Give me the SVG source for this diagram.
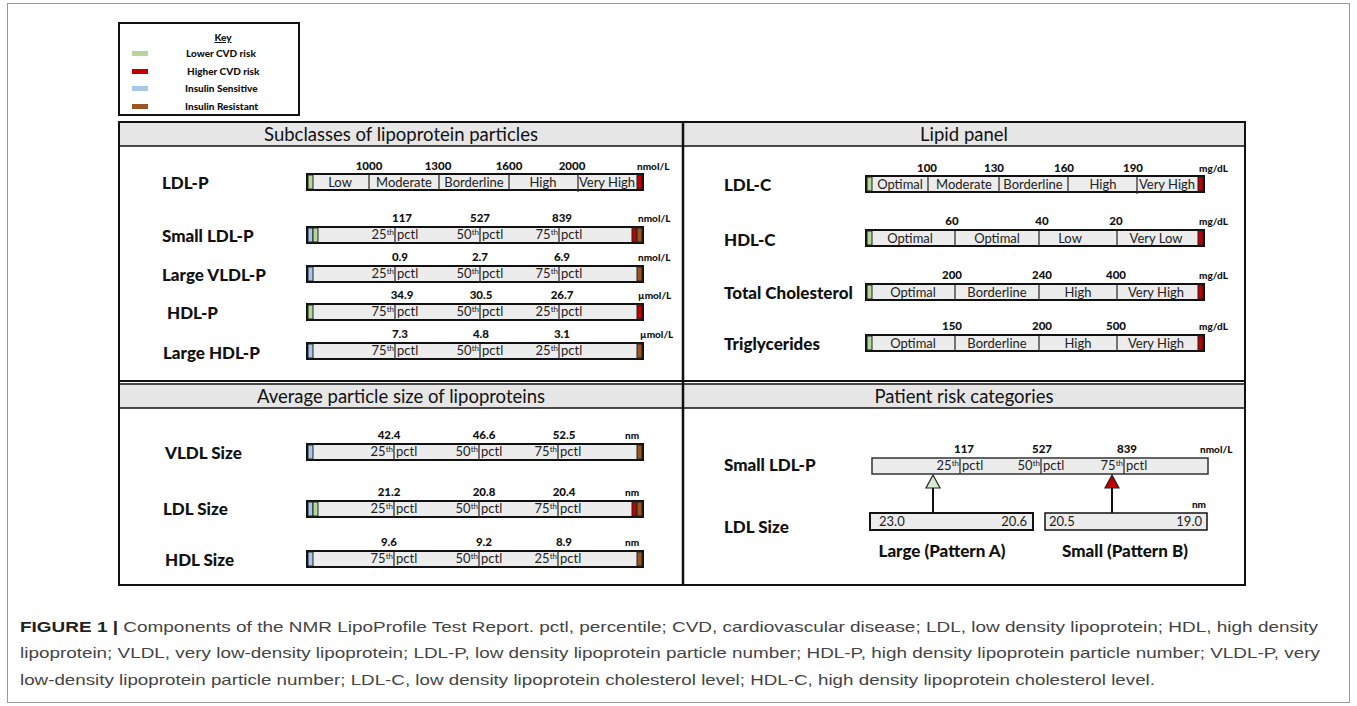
<svg xmlns="http://www.w3.org/2000/svg" width="1357" height="706" viewBox="0 0 1357 706">
<style>
.lbl{font-family:Lato,"Open Sans","Liberation Sans",sans-serif;font-weight:900;font-size:17px;fill:#111}
.val{font-family:Lato,"Liberation Sans",sans-serif;font-weight:900;font-size:11.5px;fill:#111;text-anchor:middle}
.unit{font-family:Lato,"Liberation Sans",sans-serif;font-weight:900;font-size:10px;fill:#111}
.seg{font-family:Lato,"Open Sans","Liberation Sans",sans-serif;font-size:13px;fill:#222}
.mid{text-anchor:middle}
.end{text-anchor:end}
.hdr{font-family:Lato,"Open Sans","Liberation Sans",sans-serif;font-size:18.5px;fill:#111;text-anchor:middle}
.sup{font-size:8px}
.bar{fill:#ececec;stroke:#111;stroke-width:2}
.div{stroke:#333;stroke-width:1.3}
.band{fill:#e6e6e6;stroke:#111;stroke-width:1.5}
.frame{fill:none;stroke:#111;stroke-width:2}
.g{fill:#b5d89a;stroke:#222;stroke-width:1}
.r{fill:#c00000;stroke:#222;stroke-width:1}
.b{fill:#a7c8e8;stroke:#222;stroke-width:1}
.br{fill:#9a5520;stroke:#222;stroke-width:1}
.key{font-family:Lato,"Liberation Sans",sans-serif;font-weight:900;font-size:10px;fill:#111}
.cap{font-family:"Liberation Sans",Arial,sans-serif;font-size:15px;fill:#444}
.link{stroke:#111;stroke-width:2;fill:none}
</style>
<rect x="7.5" y="3.5" width="1342" height="699" fill="#fff" stroke="#999" stroke-width="1"/>

<g id="key">
<rect x="119" y="23" width="180" height="92" fill="#fff" stroke="#111" stroke-width="2"/>
<text class="key" x="223" y="41" text-anchor="middle" text-decoration="underline">Key</text>
<rect x="132" y="51" width="16" height="5" fill="#b5d89a"/>
<text class="key" x="186" y="57">Lower CVD risk</text>
<rect x="132" y="69" width="16" height="5" fill="#c00000"/>
<text class="key" x="187" y="75">Higher CVD risk</text>
<rect x="132" y="86" width="16" height="5" fill="#a7c8e8"/>
<text class="key" x="185" y="92">Insulin Sensitive</text>
<rect x="132" y="104" width="16" height="5" fill="#9a5520"/>
<text class="key" x="185" y="110">Insulin Resistant</text>
</g>

<g id="frames">
<rect class="band" x="119" y="122" width="564" height="24"/>
<rect class="band" x="683" y="122" width="562" height="24"/>
<rect class="band" x="119" y="384" width="564" height="24"/>
<rect class="band" x="683" y="384" width="562" height="24"/>
<line x1="119" y1="381" x2="1245" y2="381" stroke="#111" stroke-width="2"/>
<rect class="frame" x="119" y="122" width="1126" height="463"/>
<line x1="683" y1="122" x2="683" y2="585" stroke="#111" stroke-width="2.5"/>
<text class="hdr" x="401" y="141">Subclasses of lipoprotein particles</text>
<text class="hdr" x="964" y="141">Lipid panel</text>
<text class="hdr" x="401" y="403">Average particle size of lipoproteins</text>
<text class="hdr" x="964" y="403">Patient risk categories</text>
</g>

<!-- LEFT TOP -->
<g id="ldlp">
<text class="lbl" x="162" y="189">LDL-P</text>
<rect class="bar" x="307" y="174" width="336" height="16"/>
<rect class="g" x="308" y="175" width="5" height="14"/>
<rect class="r" x="637" y="175" width="5" height="14"/>
<line class="div" x1="369" y1="175" x2="369" y2="190"/>
<line class="div" x1="439" y1="175" x2="439" y2="190"/>
<line class="div" x1="509" y1="175" x2="509" y2="190"/>
<line class="div" x1="578" y1="175" x2="578" y2="192"/>
<text class="seg mid" x="340" y="187">Low</text>
<text class="seg mid" x="404" y="187">Moderate</text>
<text class="seg mid" x="474" y="187">Borderline</text>
<text class="seg mid" x="543" y="187">High</text>
<text class="seg mid" x="607" y="187">Very High</text>
<text class="val" x="369" y="170">1000</text>
<text class="val" x="438" y="170">1300</text>
<text class="val" x="509" y="170">1600</text>
<text class="val" x="572" y="170">2000</text>
<text class="unit" x="637" y="170">nmol/L</text>
</g>

<g id="smallldlp">
<text class="lbl" x="162" y="242">Small LDL-P</text>
<rect class="bar" x="307" y="227" width="336" height="16"/>
<rect class="b" x="308" y="228" width="5" height="14"/>
<rect class="g" x="313" y="228" width="5" height="14"/>
<rect class="r" x="632" y="228" width="5" height="14"/>
<rect class="br" x="637" y="228" width="5" height="14"/>
<line class="div" x1="395" y1="228" x2="395" y2="243"/>
<line class="div" x1="480" y1="228" x2="480" y2="243"/>
<line class="div" x1="559" y1="228" x2="559" y2="243"/>
<text class="seg end" x="394" y="239">25<tspan class="sup" dy="-4">th</tspan></text>
<text class="seg" x="397" y="239">pctl</text>
<text class="seg end" x="479" y="239">50<tspan class="sup" dy="-4">th</tspan></text>
<text class="seg" x="482" y="239">pctl</text>
<text class="seg end" x="558" y="239">75<tspan class="sup" dy="-4">th</tspan></text>
<text class="seg" x="561" y="239">pctl</text>
<text class="val" x="402" y="222">117</text>
<text class="val" x="480" y="222">527</text>
<text class="val" x="562" y="222">839</text>
<text class="unit" x="638" y="222">nmol/L</text>
</g>

<g id="largevldlp">
<text class="lbl" x="162" y="281">Large VLDL-P</text>
<rect class="bar" x="307" y="266" width="336" height="16"/>
<rect class="b" x="308" y="267" width="5" height="14"/>
<rect class="br" x="637" y="267" width="5" height="14"/>
<line class="div" x1="395" y1="267" x2="395" y2="282"/>
<line class="div" x1="480" y1="267" x2="480" y2="282"/>
<line class="div" x1="559" y1="267" x2="559" y2="282"/>
<text class="seg end" x="394" y="278">25<tspan class="sup" dy="-4">th</tspan></text>
<text class="seg" x="397" y="278">pctl</text>
<text class="seg end" x="479" y="278">50<tspan class="sup" dy="-4">th</tspan></text>
<text class="seg" x="482" y="278">pctl</text>
<text class="seg end" x="558" y="278">75<tspan class="sup" dy="-4">th</tspan></text>
<text class="seg" x="561" y="278">pctl</text>
<text class="val" x="400" y="261">0.9</text>
<text class="val" x="480" y="261">2.7</text>
<text class="val" x="562" y="261">6.9</text>
<text class="unit" x="638" y="261">nmol/L</text>
</g>

<g id="hdlp">
<text class="lbl" x="167" y="319">HDL-P</text>
<rect class="bar" x="307" y="304" width="336" height="16"/>
<rect class="g" x="308" y="305" width="5" height="14"/>
<rect class="r" x="637" y="305" width="5" height="14"/>
<line class="div" x1="395" y1="305" x2="395" y2="320"/>
<line class="div" x1="480" y1="305" x2="480" y2="320"/>
<line class="div" x1="559" y1="305" x2="559" y2="320"/>
<text class="seg end" x="394" y="316">75<tspan class="sup" dy="-4">th</tspan></text>
<text class="seg" x="397" y="316">pctl</text>
<text class="seg end" x="479" y="316">50<tspan class="sup" dy="-4">th</tspan></text>
<text class="seg" x="482" y="316">pctl</text>
<text class="seg end" x="558" y="316">25<tspan class="sup" dy="-4">th</tspan></text>
<text class="seg" x="561" y="316">pctl</text>
<text class="val" x="402" y="299">34.9</text>
<text class="val" x="481" y="299">30.5</text>
<text class="val" x="562" y="299">26.7</text>
<text class="unit" x="638" y="299">µmol/L</text>
</g>

<g id="largehdlp">
<text class="lbl" x="163" y="359">Large HDL-P</text>
<rect class="bar" x="307" y="343" width="336" height="16"/>
<rect class="b" x="308" y="344" width="5" height="14"/>
<rect class="br" x="637" y="344" width="5" height="14"/>
<line class="div" x1="395" y1="344" x2="395" y2="359"/>
<line class="div" x1="480" y1="344" x2="480" y2="359"/>
<line class="div" x1="559" y1="344" x2="559" y2="359"/>
<text class="seg end" x="394" y="355">75<tspan class="sup" dy="-4">th</tspan></text>
<text class="seg" x="397" y="355">pctl</text>
<text class="seg end" x="479" y="355">50<tspan class="sup" dy="-4">th</tspan></text>
<text class="seg" x="482" y="355">pctl</text>
<text class="seg end" x="558" y="355">25<tspan class="sup" dy="-4">th</tspan></text>
<text class="seg" x="561" y="355">pctl</text>
<text class="val" x="400" y="338">7.3</text>
<text class="val" x="481" y="338">4.8</text>
<text class="val" x="562" y="338">3.1</text>
<text class="unit" x="640" y="338">µmol/L</text>
</g>

<!-- RIGHT TOP -->
<g id="ldlc">
<text class="lbl" x="724" y="191">LDL-C</text>
<rect class="bar" x="866" y="176" width="338" height="16"/>
<rect class="g" x="867" y="177" width="5" height="14"/>
<rect class="r" x="1198" y="177" width="5" height="14"/>
<line class="div" x1="928" y1="177" x2="928" y2="192"/>
<line class="div" x1="999" y1="177" x2="999" y2="192"/>
<line class="div" x1="1068" y1="177" x2="1068" y2="192"/>
<line class="div" x1="1137" y1="177" x2="1137" y2="194"/>
<text class="seg mid" x="900" y="189">Optimal</text>
<text class="seg mid" x="964" y="189">Moderate</text>
<text class="seg mid" x="1033" y="189">Borderline</text>
<text class="seg mid" x="1103" y="189">High</text>
<text class="seg mid" x="1167" y="189">Very High</text>
<text class="val" x="927" y="172">100</text>
<text class="val" x="994" y="172">130</text>
<text class="val" x="1064" y="172">160</text>
<text class="val" x="1133" y="172">190</text>
<text class="unit" x="1199" y="172">mg/dL</text>
</g>

<g id="hdlc">
<text class="lbl" x="724" y="246">HDL-C</text>
<rect class="bar" x="866" y="230" width="338" height="16"/>
<rect class="g" x="867" y="231" width="5" height="14"/>
<rect class="r" x="1198" y="231" width="5" height="14"/>
<line class="div" x1="955" y1="231" x2="955" y2="246"/>
<line class="div" x1="1039" y1="231" x2="1039" y2="246"/>
<line class="div" x1="1117" y1="231" x2="1117" y2="246"/>
<text class="seg mid" x="910" y="243">Optimal</text>
<text class="seg mid" x="997" y="243">Optimal</text>
<text class="seg mid" x="1070" y="243">Low</text>
<text class="seg mid" x="1156" y="243">Very Low</text>
<text class="val" x="952" y="225">60</text>
<text class="val" x="1042" y="225">40</text>
<text class="val" x="1116" y="225">20</text>
<text class="unit" x="1199" y="225">mg/dL</text>
</g>

<g id="totalchol">
<text class="lbl" x="724" y="299">Total Cholesterol</text>
<rect class="bar" x="866" y="284" width="338" height="16"/>
<rect class="g" x="867" y="285" width="5" height="14"/>
<rect class="r" x="1198" y="285" width="5" height="14"/>
<line class="div" x1="955" y1="285" x2="955" y2="300"/>
<line class="div" x1="1039" y1="285" x2="1039" y2="300"/>
<line class="div" x1="1117" y1="285" x2="1117" y2="300"/>
<text class="seg mid" x="913" y="297">Optimal</text>
<text class="seg mid" x="997" y="297">Borderline</text>
<text class="seg mid" x="1078" y="297">High</text>
<text class="seg mid" x="1156" y="297">Very High</text>
<text class="val" x="952" y="279">200</text>
<text class="val" x="1042" y="279">240</text>
<text class="val" x="1116" y="279">400</text>
<text class="unit" x="1199" y="279">mg/dL</text>
</g>

<g id="trig">
<text class="lbl" x="724" y="350">Triglycerides</text>
<rect class="bar" x="866" y="335" width="338" height="16"/>
<rect class="g" x="867" y="336" width="5" height="14"/>
<rect class="r" x="1198" y="336" width="5" height="14"/>
<line class="div" x1="955" y1="336" x2="955" y2="351"/>
<line class="div" x1="1039" y1="336" x2="1039" y2="351"/>
<line class="div" x1="1117" y1="336" x2="1117" y2="351"/>
<text class="seg mid" x="913" y="348">Optimal</text>
<text class="seg mid" x="997" y="348">Borderline</text>
<text class="seg mid" x="1078" y="348">High</text>
<text class="seg mid" x="1156" y="348">Very High</text>
<text class="val" x="952" y="330">150</text>
<text class="val" x="1042" y="330">200</text>
<text class="val" x="1116" y="330">500</text>
<text class="unit" x="1199" y="330">mg/dL</text>
</g>

<!-- LEFT BOTTOM -->
<g id="vldlsize">
<text class="lbl" x="165" y="459">VLDL Size</text>
<rect class="bar" x="307" y="444" width="336" height="16"/>
<rect class="b" x="308" y="445" width="5" height="14"/>
<rect class="br" x="637" y="445" width="5" height="14"/>
<line class="div" x1="394" y1="445" x2="394" y2="460"/>
<line class="div" x1="479" y1="445" x2="479" y2="460"/>
<line class="div" x1="558" y1="445" x2="558" y2="460"/>
<text class="seg end" x="393" y="456">25<tspan class="sup" dy="-4">th</tspan></text>
<text class="seg" x="396" y="456">pctl</text>
<text class="seg end" x="478" y="456">50<tspan class="sup" dy="-4">th</tspan></text>
<text class="seg" x="481" y="456">pctl</text>
<text class="seg end" x="557" y="456">75<tspan class="sup" dy="-4">th</tspan></text>
<text class="seg" x="560" y="456">pctl</text>
<text class="val" x="389" y="439">42.4</text>
<text class="val" x="484" y="439">46.6</text>
<text class="val" x="564" y="439">52.5</text>
<text class="unit" x="625" y="439">nm</text>
</g>

<g id="ldlsize">
<text class="lbl" x="163" y="515">LDL Size</text>
<rect class="bar" x="307" y="501" width="336" height="16"/>
<rect class="b" x="308" y="502" width="5" height="14"/>
<rect class="g" x="313" y="502" width="5" height="14"/>
<rect class="r" x="632" y="502" width="5" height="14"/>
<rect class="br" x="637" y="502" width="5" height="14"/>
<line class="div" x1="394" y1="502" x2="394" y2="517"/>
<line class="div" x1="479" y1="502" x2="479" y2="517"/>
<line class="div" x1="558" y1="502" x2="558" y2="517"/>
<text class="seg end" x="393" y="513">25<tspan class="sup" dy="-4">th</tspan></text>
<text class="seg" x="396" y="513">pctl</text>
<text class="seg end" x="478" y="513">50<tspan class="sup" dy="-4">th</tspan></text>
<text class="seg" x="481" y="513">pctl</text>
<text class="seg end" x="557" y="513">75<tspan class="sup" dy="-4">th</tspan></text>
<text class="seg" x="560" y="513">pctl</text>
<text class="val" x="389" y="496">21.2</text>
<text class="val" x="484" y="496">20.8</text>
<text class="val" x="564" y="496">20.4</text>
<text class="unit" x="625" y="496">nm</text>
</g>

<g id="hdlsize">
<text class="lbl" x="165" y="566">HDL Size</text>
<rect class="bar" x="307" y="551" width="336" height="16"/>
<rect class="b" x="308" y="552" width="5" height="14"/>
<rect class="br" x="637" y="552" width="5" height="14"/>
<line class="div" x1="394" y1="552" x2="394" y2="567"/>
<line class="div" x1="479" y1="552" x2="479" y2="567"/>
<line class="div" x1="558" y1="552" x2="558" y2="567"/>
<text class="seg end" x="393" y="563">75<tspan class="sup" dy="-4">th</tspan></text>
<text class="seg" x="396" y="563">pctl</text>
<text class="seg end" x="478" y="563">50<tspan class="sup" dy="-4">th</tspan></text>
<text class="seg" x="481" y="563">pctl</text>
<text class="seg end" x="557" y="563">25<tspan class="sup" dy="-4">th</tspan></text>
<text class="seg" x="560" y="563">pctl</text>
<text class="val" x="389" y="546">9.6</text>
<text class="val" x="484" y="546">9.2</text>
<text class="val" x="564" y="546">8.9</text>
<text class="unit" x="625" y="546">nm</text>
</g>

<!-- RIGHT BOTTOM -->
<g id="risk-smallldlp">
<text class="lbl" x="724" y="471">Small LDL-P</text>
<rect x="872" y="458" width="336" height="16" fill="#ececec" stroke="#333" stroke-width="1.5"/>
<line class="div" x1="960" y1="459" x2="960" y2="474"/>
<line class="div" x1="1041" y1="459" x2="1041" y2="474"/>
<line class="div" x1="1124" y1="459" x2="1124" y2="474"/>
<text class="seg end" x="959" y="470">25<tspan class="sup" dy="-4">th</tspan></text>
<text class="seg" x="962" y="470">pctl</text>
<text class="seg end" x="1040" y="470">50<tspan class="sup" dy="-4">th</tspan></text>
<text class="seg" x="1043" y="470">pctl</text>
<text class="seg end" x="1123" y="470">75<tspan class="sup" dy="-4">th</tspan></text>
<text class="seg" x="1126" y="470">pctl</text>
<text class="val" x="964" y="453">117</text>
<text class="val" x="1042" y="453">527</text>
<text class="val" x="1127" y="453">839</text>
<text class="unit" x="1200" y="453">nmol/L</text>
</g>

<g id="risk-ldlsize">
<text class="lbl" x="724" y="533">LDL Size</text>
<rect x="870" y="513" width="163" height="17" fill="#ececec" stroke="#111" stroke-width="2"/>
<rect x="1045" y="513" width="162" height="17" fill="#ececec" stroke="#111" stroke-width="1.5"/>
<text class="seg" x="879" y="526">23.0</text>
<text class="seg end" x="1027" y="526">20.6</text>
<text class="seg" x="1049" y="526">20.5</text>
<text class="seg end" x="1202" y="526">19.0</text>
<text class="unit" x="1206" y="508" text-anchor="end">nm</text>
<text class="lbl mid" x="942" y="557">Large (Pattern A)</text>
<text class="lbl mid" x="1125" y="557">Small (Pattern B)</text>
</g>

<g id="connectors">
<line class="link" x1="933" y1="487" x2="933" y2="513"/>
<line class="link" x1="1112" y1="487" x2="1112" y2="513"/>
<polygon points="933,475 926,488 940,488" fill="#d9ead3" stroke="#222" stroke-width="1.2"/>
<polygon points="1112,475 1105,488 1119,488" fill="#c00000" stroke="#222" stroke-width="1.2"/>
</g>

<g id="caption">
<text class="cap" x="20" y="632" textLength="1298" lengthAdjust="spacingAndGlyphs"><tspan font-weight="bold" fill="#222">FIGURE 1 |</tspan> Components of the NMR LipoProfile Test Report. pctl, percentile; CVD, cardiovascular disease; LDL, low density lipoprotein; HDL, high density</text>
<text class="cap" x="20" y="658" textLength="1300" lengthAdjust="spacingAndGlyphs">lipoprotein; VLDL, very low-density lipoprotein; LDL-P, low density lipoprotein particle number; HDL-P, high density lipoprotein particle number; VLDL-P, very</text>
<text class="cap" x="20" y="685" textLength="1135" lengthAdjust="spacingAndGlyphs">low-density lipoprotein particle number; LDL-C, low density lipoprotein cholesterol level; HDL-C, high density lipoprotein cholesterol level.</text>
</g>
</svg>
